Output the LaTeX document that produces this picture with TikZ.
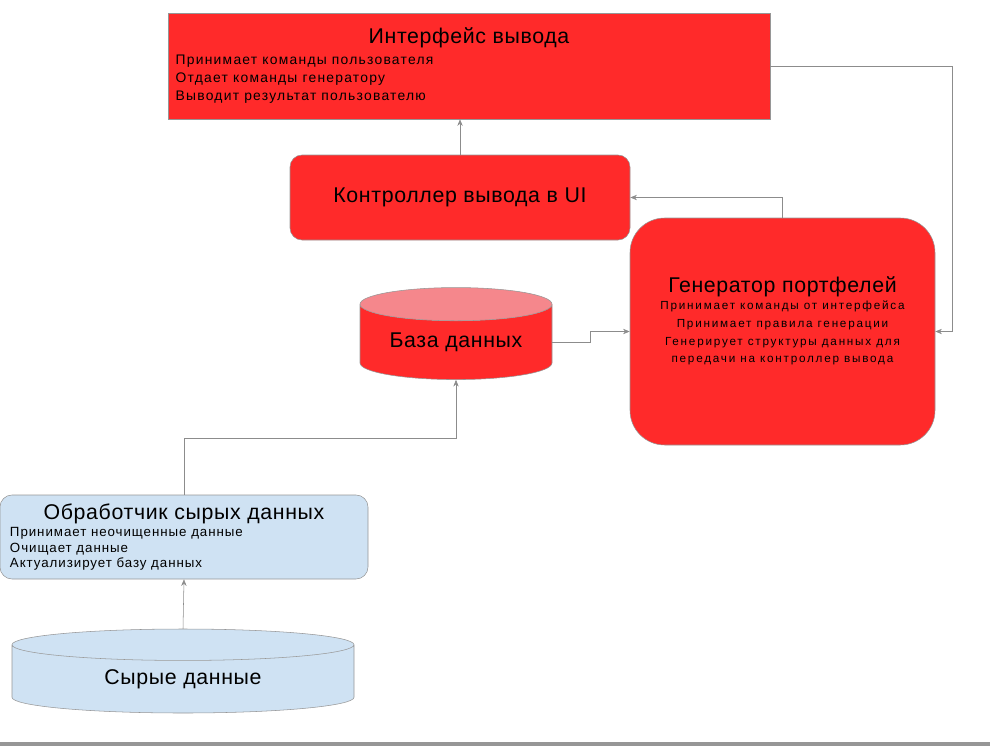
\documentclass[tikz,border=0pt]{standalone}
\usepackage{fontspec}
\setmainfont{Liberation Sans}
\usetikzlibrary{shapes.geometric,arrows.meta}
\definecolor{boxred}{RGB}{255,42,42}
\definecolor{dbtop}{RGB}{245,135,140}
\definecolor{rawblue}{RGB}{207,226,243}
\definecolor{edgegray}{RGB}{150,150,150}
\definecolor{linkgray}{RGB}{140,140,140}
\newcommand\titlesize{\fontsize{16}{20}\selectfont\addfontfeature{LetterSpace=3}}
\newcommand\bodysize[3]{\fontsize{#1}{#2}\selectfont\addfontfeature{LetterSpace=#3}}

\begin{document}
\begin{tikzpicture}
[x=0.75pt, y=-0.75pt,
redbox/.style={rectangle, draw=edgegray, fill=boxred, inner sep=0pt},
bluebox/.style={rectangle, rounded corners=9pt, draw=edgegray, fill=rawblue, inner sep=0pt},
dbshape/.style={cylinder, shape border rotate=90, aspect=0.25, draw=edgegray, cylinder uses custom fill, inner sep=0pt},
link/.style={draw=linkgray, -{Stealth[length=5pt,width=4pt]}},
]
\useasboundingbox (0,0) rectangle (990,746);
\fill[edgegray] (0,742) rectangle (990,746);

% boxes
\node[redbox, minimum width=451.5pt, minimum height=79.5pt] (iface) at (469,66)
  {\parbox{440pt}{\centering\titlesize Интерфейс вывода\par\vspace{2.25pt}
   \raggedright\bodysize{10.4}{13.5}{9}Принимает команды пользователя\\Отдает команды генератору\\Выводит результат пользователю}};
\node[redbox, rounded corners=9pt, minimum width=255pt, minimum height=63.75pt] (ctrl) at (460,197.5)
  {\titlesize Контроллер вывода в UI};
\node[redbox, rounded corners=26pt, minimum width=228.75pt, minimum height=170.25pt] (gen) at (782.5,331.5)
  {\parbox[c][165pt][t]{220pt}{\centering\vspace*{41pt}\titlesize Генератор портфелей\par
   \bodysize{8.8}{13.3}{15}Принимает команды от интерфейса\\Принимает правила генерации\\Генерирует структуры данных для\\передачи на контроллер вывода}};
\node[dbshape, cylinder body fill=boxred, cylinder end fill=dbtop, minimum width=144pt, minimum height=69pt] (db) at (456,342)
  {\titlesize База данных};
\node[bluebox, minimum width=276pt, minimum height=63pt] (proc) at (184,537)
  {\parbox{261pt}{\centering\titlesize Обработчик сырых данных\par\vspace{1.5pt}
   \raggedright\bodysize{10}{11.6}{7}Принимает неочищенные данные\\Очищает данные\\Актуализирует базу данных}};
\node[dbshape, aspect=0.2, cylinder body fill=rawblue, cylinder end fill=rawblue, minimum width=256.5pt, minimum height=63pt] (raw) at (183,679)
  {\titlesize Сырые данные};

% links
\coordinate (turn) at (952,66);
\coordinate (bend) at (184,438);
\draw[link] (ctrl.north) -- (ctrl.north |- iface.south);
\draw[link] (gen.north) |- (ctrl.east);
\draw[link] (iface.east) -- (turn) |- (gen.east);
\draw[link] (db.east) -- ++(38,0) |- (gen.west);
\draw[link] (proc.north) -- (bend) -| (db.south);
\draw[link] (raw.north) -- (proc.south);
\end{tikzpicture}
\end{document}
